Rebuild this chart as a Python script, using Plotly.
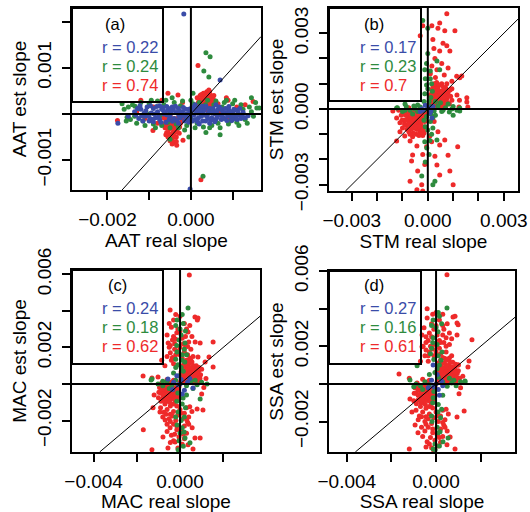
import plotly.graph_objects as go

# All slope values below are in units of 0.001 (converted with UNIT when plotted)
UNIT = 0.001

RED = "#EE2A2A"
GREEN = "#2E8B3E"
BLUE = "#3A4CA8"

# ---------------- Panel (a): AAT ----------------
A_RED = [
    (0.10, 0.10), (0.15, 0.20), (0.20, 0.12), (0.20, 0.30), (0.25, 0.22), (0.28, 0.38), (0.30, 0.15), (0.32, 0.30),
    (0.35, 0.25), (0.38, 0.42), (0.40, 0.18), (0.42, 0.32), (0.45, 0.28), (0.48, 0.40), (0.50, 0.22), (0.52, 0.35),
    (0.25, 0.05), (0.40, 0.08), (0.55, 0.30), (0.30, 0.45), (0.15, 0.35), (0.45, 0.48), (0.35, 0.35), (0.22, 0.40),
    (0.12, 0.15), (0.18, 0.25), (0.22, 0.18), (0.27, 0.32), (0.30, 0.25), (0.33, 0.20), (0.37, 0.30), (0.40, 0.38),
    (0.43, 0.22), (0.47, 0.33), (0.50, 0.28), (0.27, 0.12), (0.35, 0.12), (0.45, 0.15), (0.18, 0.08), (0.38, 0.48),
    (0.42, 0.45), (0.55, 0.40), (0.25, 0.42), (0.33, 0.38),
    (-0.20, -0.10), (-0.25, -0.20), (-0.30, -0.08), (-0.30, -0.30), (-0.35, -0.18), (-0.38, -0.40), (-0.40, -0.10),
    (-0.42, -0.28), (-0.45, -0.20), (-0.48, -0.45), (-0.50, -0.12), (-0.52, -0.32), (-0.55, -0.22), (-0.58, -0.40),
    (-0.60, -0.15), (-0.62, -0.30), (-0.45, -0.55), (-0.35, -0.50), (-0.65, -0.08), (-0.28, -0.42), (-0.40, -0.62),
    (-0.50, -0.05), (-0.42, -0.38), (-0.55, -0.50),
    (-0.22, -0.15), (-0.27, -0.28), (-0.32, -0.22), (-0.33, -0.38), (-0.37, -0.30), (-0.40, -0.22), (-0.43, -0.45),
    (-0.47, -0.30), (-0.50, -0.25), (-0.53, -0.42), (-0.57, -0.30), (-0.60, -0.45), (-0.38, -0.12), (-0.48, -0.15),
    (-0.58, -0.08), (-0.45, -0.65), (-0.50, -0.58), (-0.40, -0.50), (-0.35, -0.60), (-0.62, -0.22),
    (-1.30, 0.05), (-1.10, -0.10), (-0.90, 0.15), (-0.80, -0.20), (-0.20, 0.25), (0.70, 0.05), (0.90, -0.10),
    (1.10, 0.15), (1.20, -0.05), (-1.20, 0.30), (0.65, 0.22), (0.85, 0.35), (1.30, 0.20), (-0.70, 0.30),
    (-0.55, 0.45), (-0.31, 0.41), (0.58, -0.13), (0.89, 0.30),
    (0.17, 1.05), (0.43, 0.52), (1.49, 0.27), (-1.76, -0.14), (0.24, -1.43), (-0.34, -0.68), (-0.19, -0.57),
    (-0.91, -0.36),
]
A_GREEN = [
    (-1.60, 0.10), (-1.45, -0.12), (-1.40, 0.20), (-1.30, -0.20), (-1.20, 0.25), (-1.10, -0.25), (-1.00, 0.22),
    (-0.90, -0.22), (-0.80, 0.28), (-0.70, -0.25), (-0.60, 0.30), (-0.50, -0.30), (-0.40, 0.25), (-0.30, -0.30),
    (-0.20, 0.28), (-0.10, -0.25), (0.00, 0.30), (0.10, -0.30), (0.20, 0.25), (0.30, -0.28), (0.40, 0.30),
    (0.50, -0.25), (0.60, 0.28), (0.70, -0.30), (0.80, 0.25), (0.90, -0.22), (1.00, 0.22), (1.10, -0.18),
    (1.20, 0.20), (1.30, -0.12), (1.40, 0.15), (1.50, -0.05), (-1.00, 0.00), (-0.50, 0.05), (0.00, -0.10),
    (0.50, 0.10), (1.00, -0.05), (-0.75, -0.05), (0.25, 0.12), (0.75, 0.15), (-1.34, 0.17), (-1.65, 0.22),
    (-1.50, 0.15), (-1.35, -0.05), (-1.25, 0.12), (-1.15, -0.15), (-0.95, 0.30), (-0.85, -0.30), (-0.65, 0.20),
    (-0.55, -0.18), (-0.45, 0.35), (-0.35, -0.22), (-0.25, 0.18), (-0.15, -0.35), (0.05, 0.22), (0.15, -0.20),
    (0.35, 0.20), (0.45, -0.30), (0.55, 0.20), (0.65, -0.20), (0.85, 0.30), (0.95, -0.15), (1.05, 0.30),
    (1.15, -0.25), (1.25, 0.10), (1.35, -0.20), (1.45, 0.05), (-1.55, -0.15), (1.55, 0.25),
    (0.36, 1.33), (0.46, 1.24), (0.31, 0.93), (0.43, 0.80), (1.58, 0.13), (1.64, 0.13), (-1.53, -0.07),
    (0.29, -1.35), (0.36, -0.40), (0.70, -0.45), (-0.50, -0.55), (1.45, 0.35), (-0.05, -0.50), (0.05, 0.45),
]
A_BLUE = [
    (-1.35, 0.05), (-1.25, -0.10), (-1.20, 0.10), (-1.10, -0.05), (-1.05, 0.15), (-1.00, -0.15), (-0.95, 0.02),
    (-0.90, 0.12), (-0.85, -0.08), (-0.80, 0.05), (-0.75, -0.12), (-0.70, 0.10), (-0.65, 0.00), (-0.60, -0.18),
    (-0.55, 0.08), (-0.50, -0.05), (-0.45, 0.15), (-0.40, -0.10), (-0.35, 0.03), (-0.30, 0.12), (-0.25, -0.08),
    (-0.20, 0.05), (-0.15, -0.15), (-0.10, 0.00), (-0.05, 0.10), (0.00, -0.05), (0.05, 0.08), (0.10, -0.12),
    (0.15, 0.02), (0.20, 0.15), (0.25, -0.05), (0.30, 0.06), (0.35, -0.15), (0.40, 0.00), (0.45, 0.12),
    (0.50, -0.08), (0.55, 0.04), (0.60, -0.12), (0.65, 0.10), (0.70, -0.02), (0.75, 0.08), (0.80, -0.10),
    (0.85, 0.02), (0.90, 0.10), (0.95, -0.06), (1.00, 0.05), (1.05, -0.10), (1.10, 0.08), (1.15, -0.02),
    (1.25, 0.04), (1.30, -0.08), (-0.75, 0.18), (-0.30, -0.20), (0.10, 0.20), (0.60, 0.20), (-1.15, -0.15),
    (0.20, -0.22), (1.37, -0.04),
    (-1.28, 0.12), (-1.18, -0.04), (-1.08, 0.07), (-0.98, -0.10), (-0.88, 0.00), (-0.78, -0.06), (-0.68, 0.14),
    (-0.62, 0.04), (-0.52, -0.12), (-0.47, 0.02), (-0.42, 0.09), (-0.33, -0.14), (-0.27, 0.06), (-0.22, -0.03),
    (-0.12, 0.10), (-0.07, -0.10), (0.02, 0.14), (0.07, -0.02), (0.12, 0.07), (0.18, -0.08), (0.23, 0.04),
    (0.28, -0.15), (0.33, 0.11), (0.38, -0.05), (0.43, 0.05), (0.48, -0.13), (0.53, 0.12), (0.58, 0.00),
    (0.63, -0.07), (0.68, 0.15), (0.73, -0.12), (0.78, 0.03), (0.83, 0.12), (0.88, -0.04), (0.93, 0.06),
    (0.98, -0.14), (1.03, 0.10), (1.08, -0.06), (1.13, 0.03), (1.20, -0.10), (-0.58, 0.16), (-0.90, -0.17),
    (0.45, -0.20), (-0.05, -0.18),
    (-1.32, -0.02), (-1.22, 0.18), (-1.12, 0.02), (-1.02, -0.04), (-0.92, -0.12), (-0.82, 0.16), (-0.72, -0.18),
    (-0.66, 0.08), (-0.57, -0.02), (-0.49, 0.12), (-0.44, -0.16), (-0.37, 0.17), (-0.29, -0.04), (-0.18, 0.14),
    (-0.13, -0.06), (-0.03, 0.04), (0.04, -0.15), (0.09, 0.12), (0.16, -0.17), (0.22, 0.09), (0.31, -0.02),
    (0.36, 0.17), (0.41, -0.10), (0.51, 0.02), (0.57, -0.17), (0.62, 0.06), (0.71, 0.12), (0.76, -0.06),
    (0.86, -0.14), (0.91, 0.16), (1.01, -0.02), (1.11, -0.12), (1.17, 0.12), (1.23, -0.04), (-0.97, 0.18),
    (0.27, 0.17),
    (-0.17, 2.17), (0.70, 0.74), (-0.02, -1.63), (-1.75, -0.20), (-1.50, -0.05),
]

# ---------------- Panel (b): STM ----------------
B_RED = [
    (0.05, 0.10), (0.10, 0.30), (0.15, 0.60), (0.20, 0.20), (0.25, 0.45), (0.30, 0.80), (0.30, 0.10), (0.35, 0.35),
    (0.40, 0.60), (0.45, 0.95), (0.45, 0.20), (0.50, 0.45), (0.55, 0.70), (0.60, 0.30), (0.65, 0.55), (0.70, 0.85),
    (0.75, 0.40), (0.80, 0.65), (0.85, 0.20), (0.90, 0.50), (0.20, 0.85), (0.35, 1.05), (0.55, 1.00), (0.60, 0.05),
    (0.95, 0.80), (0.10, 0.55), (0.40, 0.15), (0.70, 0.15),
    (0.08, 0.20), (0.12, 0.45), (0.18, 0.35), (0.22, 0.65), (0.28, 0.25), (0.32, 0.55), (0.38, 0.90), (0.42, 0.40),
    (0.48, 0.70), (0.52, 0.25), (0.58, 0.55), (0.62, 0.85), (0.68, 0.35), (0.72, 0.65), (0.78, 0.25), (0.82, 0.50),
    (0.88, 0.75), (0.50, 0.95), (0.25, 1.00), (0.15, 0.75), (0.60, 0.15), (0.35, 0.15), (0.75, 1.00), (0.95, 0.35),
    (0.45, 0.05),
    (0.10, 0.05), (0.15, 0.15), (0.20, 0.40), (0.25, 0.60), (0.30, 0.35), (0.35, 0.70), (0.40, 0.45), (0.45, 0.30),
    (0.50, 0.60), (0.55, 0.35), (0.60, 0.70), (0.65, 0.45), (0.70, 0.50), (0.35, 0.50), (0.50, 0.15), (0.25, 0.30),
    (0.40, 0.80), (0.60, 0.45), (0.15, 0.50), (0.75, 0.75),
    (-0.05, -0.10), (-0.10, -0.35), (-0.15, -0.70), (-0.20, -0.15), (-0.25, -0.50), (-0.30, -0.90), (-0.35, -0.25),
    (-0.40, -0.60), (-0.45, -1.00), (-0.50, -0.10), (-0.55, -0.40), (-0.60, -0.75), (-0.65, -0.20), (-0.70, -0.55),
    (-0.75, -0.90), (-0.80, -0.30), (-0.85, -0.65), (-0.90, -0.10), (-0.95, -0.45), (-1.00, -0.75), (-1.05, -0.25),
    (-1.10, -0.55), (-0.20, -1.05), (-0.60, -1.10), (-0.30, 0.05), (-0.75, 0.05), (-1.15, -0.05), (-0.45, -0.80),
    (-0.08, -0.25), (-0.12, -0.50), (-0.18, -0.85), (-0.22, -0.30), (-0.28, -0.65), (-0.32, -0.15), (-0.38, -0.45),
    (-0.42, -0.80), (-0.48, -0.30), (-0.52, -0.60), (-0.58, -0.95), (-0.62, -0.35), (-0.68, -0.70), (-0.72, -0.10),
    (-0.78, -0.45), (-0.82, -0.80), (-0.88, -0.25), (-0.92, -0.60), (-0.98, -0.15), (-1.02, -0.45), (-0.35, -1.05),
    (-0.15, -0.95), (-0.55, -0.05), (-0.25, -0.80), (-0.70, -1.00),
    (-0.10, -0.15), (-0.15, -0.30), (-0.20, -0.45), (-0.25, -0.35), (-0.30, -0.55), (-0.35, -0.70), (-0.40, -0.35),
    (-0.45, -0.50), (-0.50, -0.70), (-0.55, -0.55), (-0.60, -0.45), (-0.65, -0.80), (-0.70, -0.35), (-0.75, -0.60),
    (-0.80, -0.15), (-0.85, -0.45), (-0.40, -0.20), (-0.30, -0.40), (-0.50, -0.40), (-0.60, -0.60),
    (0.75, 3.77), (0.47, 3.41), (0.40, 3.20), (0.16, 3.30), (0.67, 3.10), (1.07, 3.10), (0.20, 2.75), (0.60, 2.60),
    (0.75, 2.50), (0.24, 2.40), (0.47, 2.30), (0.87, 2.30), (0.28, 2.00), (0.55, 1.80), (0.16, 1.70), (0.80, 1.62),
    (0.36, 1.55), (1.14, 1.30), (1.26, 1.24), (-0.20, 3.30), (-0.30, 2.90), (0.30, 1.25), (0.65, 1.35), (0.10, 1.40),
    (0.95, 1.10), (1.34, 1.31),
    (1.54, 0.44), (1.54, 0.28), (1.23, 0.08), (1.58, 0.08), (1.15, 0.55), (1.25, 0.35),
    (-0.91, -1.07), (-0.70, -1.27), (-0.43, -1.47), (-0.60, -1.82), (-0.20, -1.80), (-0.64, -2.06), (-0.12, -2.20),
    (-0.40, -2.46), (0.28, -1.87), (0.36, -2.22), (0.47, -2.62), (0.87, -2.46), (-0.70, -2.86), (-0.24, -3.00),
    (-0.43, -3.20), (-0.20, -3.25), (1.00, -3.00), (0.47, -1.43), (0.67, -1.23), (0.08, -1.07), (-1.23, -1.27),
    (-1.10, -0.90), (1.18, -1.50), (0.80, -1.83), (0.25, -0.50), (0.40, -0.90), (0.15, -1.30), (-0.05, -1.50),
    (-1.38, -0.08), (-1.23, -0.36),
]
B_GREEN = [
    (-1.20, 0.05), (-1.00, -0.10), (-0.85, 0.10), (-0.70, -0.05), (-0.55, 0.12), (-0.40, -0.10), (-0.30, 0.08),
    (-0.15, -0.05), (0.10, 0.10), (0.25, -0.08), (0.40, 0.12), (0.55, -0.10), (0.70, 0.05), (0.85, -0.12),
    (1.00, 0.10), (1.15, -0.05), (1.26, -0.08), (1.26, 0.04), (0.50, 0.25), (0.80, 0.20), (-0.60, -0.20),
    (0.30, -0.25), (-0.90, 0.20), (1.00, -0.25),
    (-0.05, 1.80), (0.10, 1.50), (-0.10, 1.20), (0.15, 1.00), (0.00, 0.80), (-0.12, 0.60), (0.12, 0.45),
    (0.05, 0.30), (-0.05, -0.30), (0.10, -0.50), (-0.10, -0.70), (0.00, -0.83), (0.15, -1.00), (-0.04, -1.55),
    (0.36, -1.23), (0.05, -1.80), (-0.10, -2.10), (0.20, -0.35),
    (0.00, 2.20), (0.10, 1.20), (-0.05, 0.95), (0.18, 0.70), (-0.15, 0.30), (0.12, -0.20), (-0.15, -0.45),
    (0.20, -0.75), (0.08, -1.25), (-0.12, -1.30), (0.60, -0.05), (0.95, 0.00), (-0.90, -0.05), (-0.50, 0.00),
    (0.30, 0.30),
    (-0.20, 3.50), (0.00, 3.20), (0.36, 1.90), (-0.12, 1.55), (0.47, 1.55), (-0.40, 0.16), (-1.23, 0.04),
    (-0.24, -2.66), (0.28, -2.86), (0.20, -3.00),
]
B_BLUE = [
    (-0.24, 0.00), (0.08, -0.16), (0.16, -0.36), (0.00, 0.08), (-0.20, -0.05), (0.05, 0.05), (-0.10, 0.15),
    (0.20, 0.10), (-0.30, -0.10), (0.12, -0.08),
]

# ---------------- Panel (c): MAC ----------------
C_RED = [
    (0.00, 0.10), (0.10, 0.40), (0.15, 0.80), (0.20, 0.15), (0.25, 0.55), (0.30, 1.00), (0.35, 0.30), (0.40, 0.70),
    (0.45, 1.15), (0.50, 0.10), (0.55, 0.45), (0.60, 0.85), (0.65, 0.25), (0.70, 0.60), (0.75, 1.00), (0.80, 0.35),
    (0.85, 0.70), (0.90, 0.15), (0.95, 0.50), (0.05, 0.65), (0.20, 1.10), (0.50, 1.30), (0.70, 0.05), (1.00, 0.80),
    (0.05, 0.30), (0.12, 0.60), (0.18, 0.35), (0.22, 0.85), (0.28, 0.20), (0.32, 0.60), (0.38, 0.95), (0.42, 0.40),
    (0.48, 0.75), (0.52, 0.25), (0.58, 0.60), (0.62, 1.00), (0.68, 0.40), (0.72, 0.80), (0.78, 0.15), (0.82, 0.55),
    (0.88, 0.90), (0.92, 0.30), (0.35, 1.20), (0.10, 1.00),
    (0.10, 0.20), (0.15, 0.50), (0.25, 0.35), (0.30, 0.75), (0.35, 0.50), (0.45, 0.60), (0.50, 0.35), (0.55, 0.80),
    (0.60, 0.50), (0.65, 0.70), (0.70, 0.35), (0.75, 0.55), (0.40, 0.20), (0.20, 0.60), (0.60, 0.20), (0.45, 0.90),
    (0.30, 0.45), (0.80, 0.60),
    (-0.05, -0.15), (-0.10, -0.50), (-0.15, -0.90), (-0.20, -0.20), (-0.25, -0.65), (-0.30, -1.10), (-0.35, -0.35),
    (-0.40, -0.80), (-0.45, 0.00), (-0.50, -0.50), (-0.55, -0.95), (-0.60, -0.20), (-0.65, -0.65), (-0.70, -1.10),
    (-0.75, -0.35), (-0.80, -0.80), (-0.85, 0.05), (-0.90, -0.50), (-0.95, -0.20), (-1.00, -0.75), (-0.30, 0.20),
    (-0.60, 0.25), (-0.15, -1.20), (-0.45, -1.20),
    (-0.08, -0.30), (-0.12, -0.70), (-0.18, -0.45), (-0.22, -0.95), (-0.28, -0.40), (-0.32, -0.80), (-0.38, -0.15),
    (-0.42, -0.55), (-0.48, -1.00), (-0.52, -0.25), (-0.58, -0.70), (-0.62, -0.45), (-0.68, -0.90), (-0.72, -0.15),
    (-0.78, -0.60), (-0.82, -0.30), (-0.88, -0.95), (-0.92, -0.05), (-0.98, -0.45), (-0.40, 0.10),
    (-0.10, -0.30), (-0.15, -0.65), (-0.20, -0.35), (-0.25, -0.85), (-0.30, -0.55), (-0.35, -0.20), (-0.40, -0.65),
    (-0.45, -0.35), (-0.50, -0.85), (-0.55, -0.55), (-0.60, -0.35), (-0.65, -0.80), (-0.70, -0.50), (-0.75, -0.15),
    (-0.80, -0.55), (-0.30, -0.30), (-0.50, -0.15), (-0.45, -0.60),
    (-0.60, 1.50), (-0.40, 1.30), (-0.20, 1.60), (0.10, 1.40), (0.35, 1.60), (0.60, 1.50), (-0.50, 2.00),
    (-0.25, 2.20), (0.00, 2.00), (0.25, 2.10), (0.50, 1.90), (0.70, 2.30), (-0.55, 2.24), (-0.60, 2.68),
    (-0.30, 2.60), (0.10, 2.50), (0.37, 2.84), (0.55, 2.60), (-0.40, 3.10), (-0.10, 3.00), (0.20, 3.30),
    (0.69, 3.66), (0.80, 3.50), (-0.46, 4.04), (-0.30, 3.50), (0.00, 3.70), (0.93, 2.24), (0.83, 1.48),
    (1.16, 1.20), (1.53, 0.93), (0.43, 5.95), (0.83, 3.60), (1.53, 2.30), (1.34, 1.48), (-0.70, 1.00),
    (-0.85, 1.30),
    (-0.45, 1.70), (-0.10, 1.80), (0.20, 1.75), (0.45, 1.40), (-0.35, 2.40), (0.40, 2.30), (-0.15, 2.80),
    (0.25, 2.60), (-0.50, 3.30), (0.45, 3.20), (-0.20, 3.80), (0.55, 1.20), (-0.30, 1.10),
    (-0.35, 1.45), (0.00, 1.60), (0.30, 1.30), (-0.25, 1.90), (0.15, 2.20), (-0.45, 2.10), (0.35, 2.05),
    (-0.20, 2.45), (0.00, 2.90), (0.30, 3.00),
    (-0.90, -1.30), (-0.60, -1.40), (-0.30, -1.50), (0.00, -1.40), (0.30, -1.30), (0.55, -1.50), (-0.80, -1.80),
    (-0.50, -1.90), (-0.20, -2.00), (0.10, -1.90), (0.40, -1.80), (-0.69, -1.97), (-0.46, -2.40), (-0.15, -2.50),
    (0.20, -2.30), (0.56, -2.40), (-0.79, -2.90), (-0.40, -2.80), (-0.05, -2.90), (0.30, -2.70), (-0.23, -3.17),
    (-0.56, -3.50), (0.10, -3.30), (0.37, -3.33), (0.69, -2.95), (-0.93, -1.53), (1.06, -1.42), (0.79, -1.37),
    (1.00, -0.55), (0.93, -2.95), (0.60, -3.55), (-1.30, -3.60), (-1.70, -2.50), (-1.25, -1.30), (-1.71, 0.44),
    (-1.30, 0.33), (-1.02, 0.38), (-1.20, -0.60), (1.20, 0.30), (1.10, -0.20),
    (-0.75, -1.55), (-0.45, -1.65), (-0.10, -1.70), (0.20, -1.60), (0.45, -1.25), (-0.60, -2.20), (-0.30, -2.20),
    (0.35, -2.10), (-0.60, -2.60), (0.05, -2.60), (-0.30, -3.10), (0.20, -3.00), (-0.10, -3.50),
    (-0.65, -1.65), (-0.35, -1.75), (0.05, -1.60), (0.30, -1.95), (-0.45, -2.05), (-0.15, -2.30), (0.40, -2.20),
    (-0.25, -2.75), (0.15, -2.75), (-0.45, -3.20),
]
C_GREEN = [
    (0.37, 4.15), (-0.14, 3.50), (0.05, 2.68), (0.23, 2.24), (-0.14, 1.75), (0.09, 1.30), (0.00, 3.00),
    (0.15, 3.30), (-0.05, 2.40), (0.20, 1.90), (-0.10, 1.05), (0.15, 0.70), (-0.05, 0.45), (0.14, -0.77),
    (-0.09, -1.53), (-0.14, -2.24), (0.19, -2.62), (0.23, -2.95), (-0.09, -3.60), (0.00, -2.68), (0.46, -3.22),
    (0.10, -1.10), (-0.10, -0.50), (0.05, -2.00), (0.20, -1.80), (-0.20, 0.90), (0.30, 1.60),
    (0.10, 3.80), (-0.20, 3.20), (0.25, 2.90), (-0.15, 2.10), (0.10, 1.60), (-0.20, 1.35), (0.22, 1.20),
    (0.05, 0.90), (-0.15, -0.95), (0.25, -1.30), (-0.20, -1.80), (0.10, -2.40), (-0.05, -3.10), (0.15, -3.40),
    (0.30, -0.60), (-0.30, 0.60), (0.70, 0.20), (-0.80, 0.15),
    (-1.30, 0.27), (-1.02, 0.00), (-0.80, -0.10), (-0.60, 0.15), (-0.37, -0.05), (-0.20, 0.20), (0.30, -0.10),
    (0.50, 0.15), (0.79, -0.05), (1.00, 0.10), (1.25, 0.00), (0.93, -0.82), (-1.34, 0.22), (0.60, -0.25),
    (-0.50, -0.25),
]
C_BLUE = [
    (-0.56, 0.27), (-0.09, -0.05), (0.60, -0.22), (-0.30, 0.10), (0.05, 0.25), (0.20, -0.35), (0.35, 0.10),
    (-0.15, 0.45), (0.10, -0.55), (-0.35, -0.30), (0.00, 0.00), (0.45, 0.30),
]

# ---------------- Panel (d): SSA ----------------
D_RED = [
    (0.05, 0.10), (0.10, 0.45), (0.15, 0.90), (0.20, 0.20), (0.25, 0.60), (0.30, 1.10), (0.35, 0.35), (0.40, 0.80),
    (0.45, 1.30), (0.50, 0.10), (0.55, 0.50), (0.60, 0.95), (0.65, 0.25), (0.70, 0.70), (0.75, 1.15), (0.80, 0.40),
    (0.85, 0.85), (0.90, 0.15), (0.95, 0.55), (1.00, 1.00), (1.05, 0.30), (0.05, 0.70), (0.20, 1.25), (0.60, 1.38),
    (0.08, 0.30), (0.12, 0.65), (0.18, 0.40), (0.22, 0.95), (0.28, 0.20), (0.32, 0.70), (0.38, 1.10), (0.42, 0.45),
    (0.48, 0.85), (0.52, 0.30), (0.58, 0.70), (0.62, 1.15), (0.68, 0.45), (0.72, 0.90), (0.78, 0.20), (0.82, 0.60),
    (0.88, 1.05), (0.92, 0.35), (0.40, 1.35), (0.15, 1.15), (1.00, 0.70),
    (0.10, 0.20), (0.15, 0.55), (0.25, 0.40), (0.30, 0.85), (0.35, 0.55), (0.45, 0.65), (0.50, 0.40), (0.55, 0.90),
    (0.60, 0.55), (0.65, 0.80), (0.70, 0.40), (0.75, 0.60), (0.40, 0.20), (0.20, 0.70), (0.60, 0.20), (0.45, 1.00),
    (0.30, 0.50), (0.85, 0.65),
    (-0.05, -0.15), (-0.10, -0.55), (-0.15, -1.00), (-0.20, -0.25), (-0.25, -0.70), (-0.30, -1.20), (-0.35, -0.35),
    (-0.40, -0.85), (-0.45, 0.00), (-0.50, -0.50), (-0.55, -1.00), (-0.60, -0.20), (-0.65, -0.70), (-0.70, -1.20),
    (-0.75, -0.35), (-0.80, -0.85), (-0.85, 0.05), (-0.90, -0.50), (-0.95, -0.20), (-1.00, -0.90), (-0.30, 0.20),
    (-0.60, 0.25), (-0.15, -1.28), (-0.45, -1.30),
    (-0.08, -0.35), (-0.12, -0.80), (-0.18, -0.50), (-0.22, -1.05), (-0.28, -0.45), (-0.32, -0.90), (-0.38, -0.15),
    (-0.42, -0.60), (-0.48, -1.10), (-0.52, -0.30), (-0.58, -0.75), (-0.62, -0.50), (-0.68, -1.00), (-0.72, -0.15),
    (-0.78, -0.60), (-0.82, -0.30), (-0.88, -1.05), (-0.92, -0.05), (-0.98, -0.50), (-0.40, 0.10),
    (-0.10, -0.30), (-0.15, -0.70), (-0.20, -0.40), (-0.25, -0.90), (-0.30, -0.60), (-0.35, -0.20), (-0.40, -0.70),
    (-0.45, -0.40), (-0.50, -0.90), (-0.55, -0.60), (-0.60, -0.40), (-0.65, -0.85), (-0.70, -0.55), (-0.75, -0.15),
    (-0.80, -0.60), (-0.30, -0.30), (-0.50, -0.15), (-0.45, -0.65),
    (-0.50, 1.50), (-0.30, 1.70), (-0.10, 1.50), (0.20, 1.60), (0.45, 1.70), (0.70, 1.50), (-0.58, 2.00),
    (-0.35, 2.30), (-0.10, 2.10), (0.20, 2.20), (0.45, 2.00), (0.70, 2.40), (-0.63, 1.97), (-0.63, 2.60),
    (-0.30, 2.70), (0.05, 2.60), (0.35, 2.90), (0.60, 2.70), (-0.54, 2.98), (-0.20, 3.20), (0.15, 3.40),
    (0.76, 3.56), (0.99, 3.14), (-0.40, 4.00), (0.30, 3.70), (0.00, 3.80), (0.94, 2.60), (1.61, 2.34),
    (0.99, 1.00), (1.43, 0.90), (1.48, 1.22), (0.49, 5.80), (0.85, 3.60), (0.94, 3.24), (-0.70, 1.20),
    (-1.66, 0.53),
    (-0.45, 1.80), (-0.15, 1.85), (0.15, 1.90), (0.50, 1.30), (-0.45, 2.50), (0.45, 2.45), (-0.10, 2.90),
    (0.30, 2.60), (-0.40, 3.50), (0.50, 3.20), (-0.15, 3.70), (0.60, 2.10), (-0.35, 1.20),
    (-0.35, 1.50), (0.00, 1.70), (0.30, 1.40), (-0.25, 2.00), (0.15, 2.30), (-0.45, 2.20), (0.35, 2.20),
    (-0.20, 2.50), (0.00, 3.10), (0.30, 3.10),
    (-0.90, -1.40), (-0.60, -1.50), (-0.30, -1.60), (0.00, -1.50), (0.30, -1.40), (0.55, -1.60), (-0.80, -1.90),
    (-0.50, -2.00), (-0.20, -2.10), (0.10, -2.00), (0.40, -1.90), (-0.94, -2.18), (-0.50, -2.50), (-0.15, -2.60),
    (0.20, -2.40), (0.50, -2.50), (-0.81, -2.60), (-0.40, -3.08), (-0.05, -3.00), (0.30, -2.80), (0.49, -3.24),
    (0.63, -2.82), (-0.20, -3.40), (0.10, -3.30), (-1.08, -1.50), (0.94, -1.76), (1.26, -1.44), (1.03, -0.53),
    (-1.17, -0.80), (-1.20, -3.46), (0.85, -3.46), (1.20, 0.40), (1.10, -0.20), (-1.20, 0.30),
    (-0.75, -1.70), (-0.45, -1.75), (-0.10, -1.80), (0.20, -1.70), (0.45, -1.35), (-0.65, -2.30), (-0.35, -2.30),
    (0.35, -2.20), (-0.60, -2.80), (0.05, -2.70), (-0.30, -3.20), (0.20, -3.10), (-0.10, -3.55),
    (-0.65, -1.75), (-0.35, -1.85), (0.05, -1.70), (0.30, -2.05), (-0.45, -2.15), (-0.15, -2.40), (0.40, -2.30),
    (-0.25, -2.85), (0.15, -2.85), (-0.45, -3.35),
]
D_GREEN = [
    (0.49, 4.04), (-0.13, 3.40), (0.09, 2.77), (-0.13, 2.45), (0.27, 1.70), (0.00, 3.00), (0.15, 3.60),
    (0.05, 2.10), (-0.10, 1.30), (0.15, 1.00), (-0.05, 0.60), (0.10, 0.35), (-0.13, -0.74), (0.09, -1.50),
    (-0.18, -2.00), (0.18, -2.55), (0.31, -3.08), (-0.04, -3.50), (0.54, -2.87), (-0.13, -3.46), (0.10, -1.10),
    (-0.10, -0.40), (0.05, -2.30), (0.20, -1.80), (-0.20, 1.90),
    (0.10, 3.80), (-0.20, 3.10), (0.25, 3.20), (-0.15, 2.20), (0.10, 1.50), (-0.25, 1.60), (0.22, 1.25),
    (0.05, 0.80), (-0.15, -1.00), (0.25, -1.35), (-0.20, -1.70), (0.10, -2.60), (-0.05, -3.20), (0.15, -3.30),
    (0.30, -0.60), (-0.30, 0.50), (0.80, 0.20), (-1.00, -0.15),
    (-1.17, 0.21), (-0.90, 0.00), (-0.70, -0.10), (-0.50, 0.12), (-0.30, -0.05), (0.30, 0.10), (0.50, -0.12),
    (0.70, 0.05), (0.90, -0.10), (1.10, 0.12), (1.30, 0.10), (1.30, 0.16), (-0.85, 0.96), (-0.60, -0.30),
    (0.60, 0.30),
]
D_BLUE = [
    (-0.13, 1.00), (0.00, 0.00), (-0.20, 0.20), (0.10, -0.30), (0.25, 0.15), (-0.35, -0.20), (0.05, 0.50),
    (0.15, -0.60), (-0.10, -0.15), (0.30, -0.10),
]

# legend texts
LABELS = ["(a)", "(b)", "(c)", "(d)"]
R_VALUES = [
    ["r = 0.22", "r = 0.24", "r = 0.74"],
    ["r = 0.17", "r = 0.23", "r = 0.7"],
    ["r = 0.24", "r = 0.18", "r = 0.62"],
    ["r = 0.27", "r = 0.16", "r = 0.61"],
]
X_TITLES = ["AAT real slope", "STM real slope", "MAC real slope", "SSA real slope"]
Y_TITLES = ["AAT est slope", "STM est slope", "MAC est slope", "SSA est slope"]

# ticks (values and labels)
A_XTICKS = [-0.002, -0.001, 0.0, 0.001]
A_XLABELS = ["\u22120.002", "", "0.000", ""]
A_YTICKS = [-0.001, 0.0, 0.001, 0.002]
A_YLABELS = ["\u22120.001", "", "0.001", ""]
B_TICKS = [-0.003, -0.002, -0.001, 0.0, 0.001, 0.002, 0.003]
B_LABELS = ["\u22120.003", "", "", "0.000", "", "", "0.003"]
CD_XTICKS = [-0.004, -0.002, 0.0, 0.002]
CD_XLABELS = ["\u22120.004", "", "0.000", ""]
CD_YTICKS = [-0.002, 0.0, 0.002, 0.004, 0.006]
CD_YLABELS = ["\u22120.002", "", "0.002", "", "0.006"]

W, H = 530, 512
FONT = "Liberation Sans, Arial, sans-serif"

# panel geometry in pixels: (left, right, top, bottom), ranges, legend box right/bottom px
PANELS = [
    dict(px=(72, 261, 8, 190), xr=(-0.00285, 0.00168), yr=(-0.00165, 0.0023),
         box=(163, 102), text_x=100, lab_x=115, rows=(23.5, 46.5, 65.5, 85),
         pts=(A_RED, A_GREEN, A_BLUE), xt=(A_XTICKS, A_XLABELS), yt=(A_YTICKS, A_YLABELS)),
    dict(px=(329, 518, 8, 191), xr=(-0.0039, 0.00356), yr=(-0.00325, 0.0040),
         box=(421, 101), text_x=358, lab_x=374, rows=(23.5, 46.5, 65.5, 85),
         pts=(B_RED, B_GREEN, B_BLUE), xt=(B_TICKS, B_LABELS), yt=(B_TICKS, B_LABELS)),
    dict(px=(72, 260, 270, 452), xr=(-0.0050, 0.0037), yr=(-0.00372, 0.00623),
         box=(163, 364), text_x=100, lab_x=117, rows=(285, 308, 327, 345.5),
         pts=(C_RED, C_GREEN, C_BLUE), xt=(CD_XTICKS, CD_XLABELS), yt=(CD_YTICKS, CD_YLABELS)),
    dict(px=(329, 515, 271, 452), xr=(-0.0048, 0.00354), yr=(-0.00362, 0.0060),
         box=(421, 364), text_x=358, lab_x=374, rows=(285, 308, 327, 345.5),
         pts=(D_RED, D_GREEN, D_BLUE), xt=(CD_XTICKS, CD_XLABELS), yt=(CD_YTICKS, CD_YLABELS)),
]

fig = go.Figure()
shapes = []
annotations = []
layout_axes = {}

for i, p in enumerate(PANELS):
    n = "" if i == 0 else str(i + 1)
    xa, ya = "x" + n, "y" + n
    l, r, t, b = p["px"]
    for pts, col in zip(p["pts"], (RED, GREEN, BLUE)):
        fig.add_trace(go.Scatter(
            x=[v[0] * UNIT for v in pts], y=[v[1] * UNIT for v in pts],
            mode="markers", marker=dict(color=col, size=5, line=dict(width=0)),
            xaxis=xa, yaxis=ya, showlegend=False, hoverinfo="skip"))

    common = dict(showline=True, mirror=True, linecolor="black", linewidth=2,
                  ticks="outside", ticklen=8, tickwidth=2, tickcolor="black",
                  showgrid=False, zeroline=False, fixedrange=True, automargin=False,
                  tickfont=dict(family=FONT, size=19, color="black"))
    layout_axes["xaxis" + n] = dict(
        common, domain=[l / W, r / W], range=list(p["xr"]), anchor=ya,
        tickmode="array", tickvals=p["xt"][0], ticktext=p["xt"][1],
        ticklabelstandoff=3,
        title=dict(text=X_TITLES[i], font=dict(family=FONT, size=19, color="black"), standoff=3))
    layout_axes["yaxis" + n] = dict(
        common, domain=[1 - b / H, 1 - t / H], range=list(p["yr"]), anchor=xa,
        tickmode="array", tickvals=p["yt"][0], ticktext=p["yt"][1], tickangle=-90,
        ticklabelstandoff=3,
        title=dict(text=Y_TITLES[i], font=dict(family=FONT, size=19, color="black"), standoff=3))

    # zero lines
    shapes.append(dict(type="line", xref=xa + " domain", x0=0, x1=1, yref=ya, y0=0, y1=0,
                       line=dict(color="black", width=2), layer="above"))
    shapes.append(dict(type="line", xref=xa, x0=0, x1=0, yref=ya + " domain", y0=0, y1=1,
                       line=dict(color="black", width=2), layer="above"))
    # 1:1 line
    lo = max(p["xr"][0], p["yr"][0])
    hi = min(p["xr"][1], p["yr"][1])
    shapes.append(dict(type="line", xref=xa, yref=ya, x0=lo, y0=lo, x1=hi, y1=hi,
                       line=dict(color="black", width=1), layer="above"))
    # legend box
    bx, by = p["box"]
    shapes.append(dict(type="rect", xref="paper", yref="paper",
                       x0=l / W, x1=bx / W, y0=1 - by / H, y1=1 - t / H,
                       line=dict(color="black", width=2), layer="above"))
    # legend text
    rows = p["rows"]
    annotations.append(dict(text=LABELS[i], xref="paper", yref="paper", x=p["lab_x"] / W,
                            y=1 - rows[0] / H, xanchor="center", yanchor="middle", showarrow=False,
                            font=dict(family=FONT, size=16.5, color="black")))
    for txt, col, yy in zip(R_VALUES[i], (BLUE, GREEN, RED), rows[1:]):
        annotations.append(dict(text=txt, xref="paper", yref="paper", x=p["text_x"] / W,
                                y=1 - yy / H, xanchor="left", yanchor="middle", showarrow=False,
                                font=dict(family=FONT, size=16.5, color=col)))

fig.update_layout(
    width=W, height=H, margin=dict(l=0, r=0, t=0, b=0, autoexpand=False),
    paper_bgcolor="white", plot_bgcolor="white",
    shapes=shapes, annotations=annotations, **layout_axes)

# remove the browser's default 8px page margin so the figure sits at the window origin
fig.write_html("out.html", config={"displayModeBar": False},
               post_script="document.body.style.margin='0';")
